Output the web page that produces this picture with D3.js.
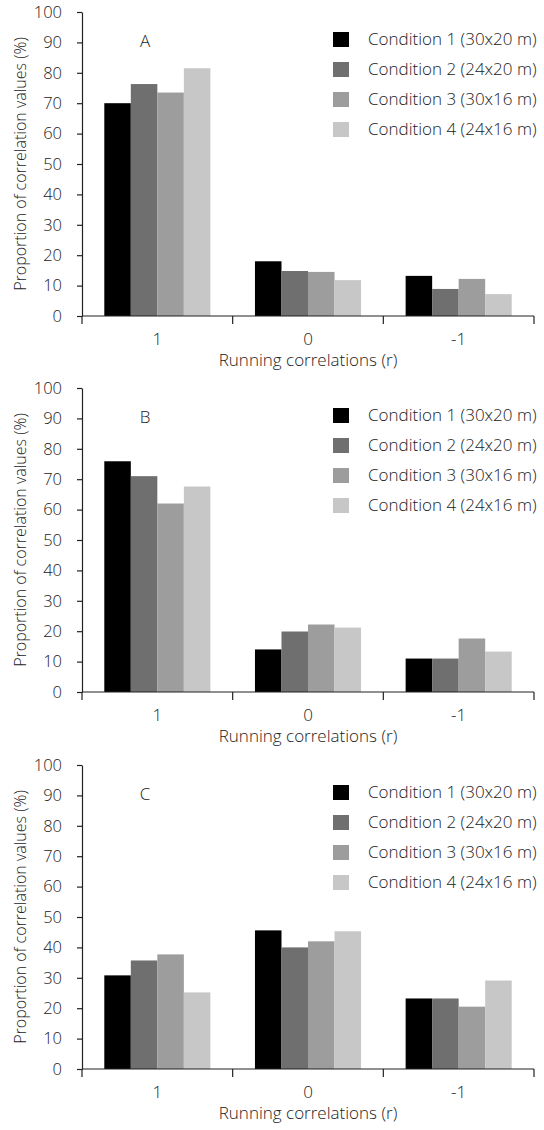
<!DOCTYPE html>
<html>
<head>
<meta charset="utf-8">
<script src="https://cdn.jsdelivr.net/npm/d3@7"></script>
<style>
  body { margin: 0; background: #fff; }
  text { font-family: "Open Sans", "Liberation Sans", sans-serif; font-weight: 300; fill: #222; }
</style>
</head>
<body>
<script>
// categories and series
var categories = ["1", "0", "-1"];
var conditions = ["Condition 1 (30x20 m)", "Condition 2 (24x20 m)", "Condition 3 (30x16 m)", "Condition 4 (24x16 m)"];
var colors = ["#000000", "#6f6f6f", "#9d9d9d", "#c7c7c7"];
var yTicks = [0, 10, 20, 30, 40, 50, 60, 70, 80, 90, 100];

// values per panel: rows = category, cols = condition
var panelA = [[70, 76.3, 73.5, 81.5], [18, 14.8, 14.5, 11.8], [13.2, 8.9, 12.2, 7.2]];
var panelB = [[75.9, 71, 62, 67.6], [14, 19.9, 22.2, 21.2], [11, 11, 17.6, 13.3]];
var panelC = [[30.8, 35.7, 37.7, 25.2], [45.6, 40, 42, 45.3], [23.2, 23.2, 20.5, 29.1]];

var panels = [
    {label: "A", values: panelA, top: 12},
    {label: "B", values: panelB, top: 388},
    {label: "C", values: panelC, top: 765}
];

var svg = d3.select("body").append("svg")
    .attr("width", 544)
    .attr("height", 1130);

var left = 82, right = 534, plotH = 304;

var x0 = d3.scaleBand()
    .domain(categories)
    .range([left, right])
    .paddingInner(0.296)
    .paddingOuter(0.148);

var x1 = d3.scaleBand()
    .domain(d3.range(conditions.length))
    .range([0, x0.bandwidth()]);

panels.forEach(function(p) {
    var g = svg.append("g").attr("transform", "translate(0," + p.top + ")");

    var y = d3.scaleLinear().domain([0, 100]).range([plotH, 0]);

    // bars
    var grp = g.selectAll("g.grp")
        .data(p.values)
        .enter().append("g")
        .attr("class", "grp")
        .attr("transform", function(d, i) { return "translate(" + x0(categories[i]) + ",0)"; });

    grp.selectAll("rect")
        .data(function(d) { return d; })
        .enter().append("rect")
        .attr("x", function(d, j) { return x1(j); })
        .attr("width", x1.bandwidth())
        .attr("y", function(d) { return y(d); })
        .attr("height", function(d) { return plotH - y(d); })
        .attr("fill", function(d, j) { return colors[j]; });

    // y axis
    var yAxis = g.append("g")
        .attr("transform", "translate(" + left + ",0)")
        .call(d3.axisLeft(y).tickValues(yTicks).tickSize(5).tickSizeOuter(0).tickPadding(15));
    yAxis.selectAll("text").style("font-size", "16.5px").attr("fill", "#222");
    yAxis.selectAll("line, path").attr("stroke", "#222").attr("stroke-width", 1.2);

    // x axis: labels at band centres, ticks at band boundaries
    var xAxis = g.append("g")
        .attr("transform", "translate(0," + plotH + ")")
        .call(d3.axisBottom(x0).tickSize(0).tickSizeOuter(0).tickPadding(17));
    xAxis.select("path").attr("stroke", "#222").attr("stroke-width", 1.2)
        .attr("d", "M" + left + ",0H" + right);
    xAxis.selectAll("text").style("font-size", "17px").attr("fill", "#222");

    var bounds = d3.range(categories.length + 1).map(function(i) { return left + i * x0.step(); });
    xAxis.selectAll("line.bound")
        .data(bounds)
        .enter().append("line")
        .attr("class", "bound")
        .attr("x1", function(d) { return d; })
        .attr("x2", function(d) { return d; })
        .attr("y1", 0)
        .attr("y2", 8)
        .attr("stroke", "#222")
        .attr("stroke-width", 1.2);

    // axis titles
    g.append("text")
        .attr("transform", "translate(20," + (plotH / 2) + ") rotate(-90)")
        .attr("text-anchor", "middle")
        .attr("dy", "0.35em")
        .attr("fill", "#222")
        .style("font-size", "16px")
        .text("Proportion of correlation values (%)");

    g.append("text")
        .attr("x", (left + right) / 2)
        .attr("y", plotH + 50)
        .attr("fill", "#222")
        .style("font-size", "17px")
        .attr("text-anchor", "middle")
        .text("Running correlations (r)");

    // panel letter
    g.append("text")
        .attr("x", 145)
        .attr("y", 29)
        .attr("dy", "0.35em")
        .attr("text-anchor", "middle")
        .style("font-size", "17px")
        .text(p.label);

    // legend
    var leg = g.selectAll("g.leg")
        .data(conditions)
        .enter().append("g")
        .attr("class", "leg")
        .attr("transform", function(d, i) { return "translate(333," + (20 + i * 30) + ")"; });

    leg.append("rect")
        .attr("width", 16)
        .attr("height", 15)
        .attr("fill", function(d, i) { return colors[i]; });

    leg.append("text")
        .attr("x", 35)
        .attr("y", 7.5)
        .attr("dy", "0.35em")
        .style("font-size", "17px")
        .text(function(d) { return d; });
});
</script>
</body>
</html>
